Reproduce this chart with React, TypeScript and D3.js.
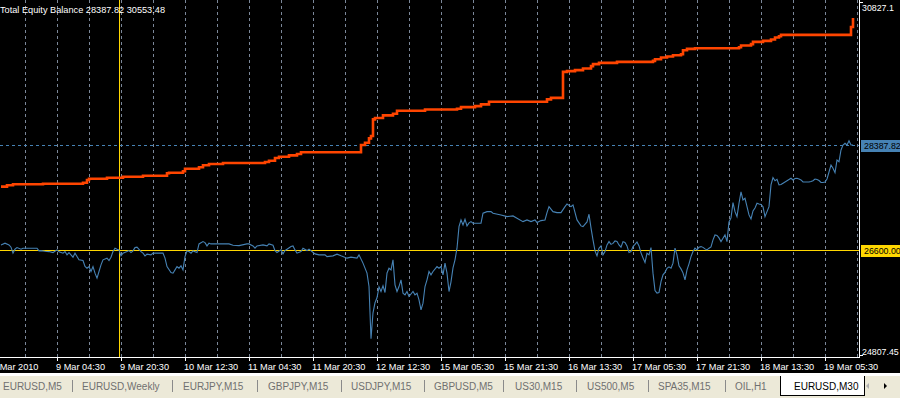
import React from "react";
import * as d3 from "d3";

// ---- data (bar index on M30 chart, account value) ----
const balancePoints: [number, number][] = [
  [0, 27678], [3, 27702], [6, 27719], [21, 27729], [41, 27746], [43, 27792], [44, 27814],
  [53, 27831], [61, 27848], [71, 27865], [83, 27906], [84, 27916], [91, 27940], [92, 27984],
  [99, 28008], [101, 28042], [104, 28064], [111, 28081], [132, 28098], [134, 28120],
  [137, 28166], [139, 28189], [144, 28212], [148, 28235], [150, 28264], [180, 28388],
  [182, 28427], [184, 28502], [185, 28541], [186, 28825], [187, 28848], [191, 28894],
  [196, 28921], [198, 28972], [212, 28993], [228, 29006], [230, 29035], [237, 29052],
  [240, 29081], [244, 29125], [273, 29166], [275, 29193], [281, 29636], [283, 29648],
  [287, 29665], [291, 29694], [295, 29733], [296, 29767], [299, 29789], [308, 29806],
  [326, 29823], [327, 29852], [330, 29881], [333, 29898], [336, 29920], [340, 29937],
  [341, 30005], [343, 30028], [347, 30039], [369, 30056], [370, 30085], [375, 30108],
  [376, 30147], [381, 30164], [385, 30188], [387, 30222], [389, 30244], [390, 30266],
  [425, 30402], [426, 30553.48],
];

const equityPoints: [number, number][] = [
  [0, 26685], [2, 26714], [4, 26685], [5, 26646], [6, 26544], [7, 26612], [8, 26639], [10, 26612],
  [11, 26629], [18, 26629], [19, 26583], [20, 26588], [22, 26578], [24, 26571], [26, 26554],
  [28, 26600], [29, 26566], [31, 26544], [32, 26571], [33, 26515], [34, 26554], [36, 26476],
  [37, 26544], [38, 26486], [39, 26430], [41, 26418], [42, 26316], [43, 26288], [44, 26316],
  [45, 26231], [46, 26316], [47, 26203], [48, 26118], [49, 26231], [50, 26345], [51, 26430],
  [53, 26459], [54, 26418], [55, 26476], [56, 26571], [57, 26629], [58, 26612], [59, 26600],
  [60, 26498], [61, 26544], [63, 26571], [64, 26588], [65, 26554], [66, 26583], [67, 26639],
  [68, 26646], [70, 26571], [71, 26544], [72, 26498], [73, 26527], [75, 26515], [76, 26544],
  [81, 26544], [82, 26459], [83, 26316], [85, 26213], [86, 26203], [87, 26259], [88, 26316],
  [89, 26288], [90, 26328], [91, 26259], [92, 26486], [93, 26583], [94, 26571], [95, 26544],
  [96, 26583], [98, 26554], [99, 26702], [101, 26741], [102, 26724], [103, 26668], [104, 26714],
  [105, 26702], [114, 26702], [116, 26680], [119, 26673], [123, 26702], [124, 26702],
  [126, 26668], [127, 26629], [128, 26668], [131, 26685], [133, 26668], [134, 26702],
  [136, 26680], [137, 26588], [138, 26554], [140, 26600], [141, 26532], [142, 26588],
  [143, 26612], [145, 26656], [146, 26668], [147, 26600], [148, 26544],
  [150, 26571], [151, 26629], [153, 26588], [154, 26612], [157, 26532], [159, 26515],
  [162, 26515], [163, 26486], [166, 26498], [168, 26527], [170, 26498], [173, 26459],
  [175, 26476], [178, 26459], [179, 26515], [181, 26374], [183, 26203], [184, 25975],
  [185, 25085], [186, 25527], [187, 25698], [188, 25783], [189, 25970], [190, 25890],
  [191, 25987], [192, 25873], [193, 26203], [194, 26288], [195, 26259], [196, 26430],
  [197, 26004], [198, 25890], [199, 25975], [200, 26089], [201, 25863], [202, 25834],
  [203, 25890], [204, 25805], [206, 25890], [207, 25834], [208, 25863], [209, 25749],
  [210, 25578], [211, 25692], [212, 25975], [213, 26089], [214, 26231], [215, 26174],
  [216, 26231], [218, 26316], [219, 26288], [220, 26316], [221, 26174], [222, 26374],
  [223, 26203], [224, 25890], [225, 26055], [226, 26294], [227, 26430], [228, 26629],
  [229, 26997], [230, 27111], [231, 27026], [232, 27123], [233, 27009], [234, 27060],
  [235, 27082], [236, 27055], [240, 27055], [241, 27225], [243, 27252], [245, 27252],
  [246, 27225], [250, 27196], [253, 27167], [256, 27179], [258, 27140], [261, 27082],
  [263, 27111], [265, 27082], [267, 27111], [268, 27065], [270, 27099], [272, 27111],
  [273, 27235], [274, 27337], [276, 27252], [278, 27235], [280, 27235], [282, 27337],
  [283, 27383], [285, 27337], [286, 27366], [288, 27111], [290, 27009], [291, 26997],
  [293, 27077], [294, 27208], [295, 26975], [296, 26770], [297, 26583], [298, 26498],
  [299, 26629], [300, 26668], [301, 26515], [302, 26571], [303, 26685], [304, 26741],
  [305, 26694], [306, 26711], [307, 26753], [308, 26745], [309, 26685], [310, 26646],
  [311, 26741], [312, 26728], [313, 26668], [314, 26554], [315, 26571], [316, 26656],
  [317, 26694], [318, 26736], [319, 26668], [320, 26549], [321, 26464], [322, 26384],
  [323, 26544], [324, 26515], [325, 26639], [326, 26203], [327, 25907], [328, 25863],
  [329, 25873], [330, 26060], [331, 26174], [332, 26217], [333, 26285], [334, 26311],
  [335, 26288], [336, 26374], [337, 26629], [338, 26515], [339, 26328], [340, 26276],
  [341, 26208], [342, 26089], [343, 26259], [344, 26362], [345, 26486], [346, 26571],
  [347, 26629], [348, 26600], [349, 26646], [350, 26656], [351, 26643], [352, 26617],
  [353, 26600], [354, 26629], [355, 26651], [356, 26770], [357, 26855], [358, 26847],
  [359, 26804], [360, 26741], [361, 26799], [362, 26855], [363, 26741], [364, 27077],
  [365, 27145], [366, 27405], [367, 27252], [368, 27167], [369, 27395], [370, 27588],
  [371, 27451], [372, 27480], [373, 27337], [374, 27196], [375, 27128], [376, 27264],
  [377, 27315], [378, 27395], [379, 27383], [380, 27375], [381, 27337], [382, 27167],
  [383, 27252], [384, 27337], [385, 27707], [386, 27834], [387, 27780], [388, 27804],
  [389, 27707], [390, 27715], [391, 27736], [392, 27758], [393, 27780], [394, 27800],
  [395, 27821], [396, 27792], [397, 27817], [398, 27821], [399, 27809], [400, 27792],
  [401, 27758], [404, 27758], [405, 27766], [406, 27780], [407, 27809], [408, 27800],
  [409, 27783], [410, 27749], [411, 27749], [412, 27758], [413, 27809], [414, 27928],
  [415, 28047], [416, 27991], [417, 27916], [418, 28132], [419, 28103], [420, 28303],
  [421, 28388], [422, 28417], [423, 28388], [424, 28461], [425, 28388], [426, 28387.82],
];

const timeTickBars = [-4, 28, 60, 92, 124, 156, 188, 220, 252, 284, 316, 348, 380, 412];
const timeTickLabels = [
  "8 Mar 2010", "9 Mar 04:30", "9 Mar 20:30", "10 Mar 12:30", "11 Mar 04:30", "11 Mar 20:30",
  "12 Mar 12:30", "15 Mar 05:30", "15 Mar 21:30", "16 Mar 13:30", "17 Mar 05:30",
  "17 Mar 21:30", "18 Mar 13:30", "19 Mar 05:30",
];
const gridBars = d3.range(12, 429, 16);

const scaleMin = 24807.45;
const scaleMax = 30827.1;
const scaleMaxLabel = "30827.1";
const scaleMinLabel = "24807.45";
const currentEquity = 28387.82;
const currentBalance = 30553.48;
const levelValue = 26600.0;
const markerBar = 59;
const lastBar = 426;

const tabNames = [
  "EURUSD,M5", "EURUSD,Weekly", "EURJPY,M15", "GBPJPY,M15", "USDJPY,M15",
  "GBPUSD,M5", "US30,M15", "US500,M5", "SPA35,M15", "OIL,H1",
];
const activeTabName = "EURUSD,M30";

// ---- layout ----
const W = 900;
const H = 398;
const PLOT_RIGHT = 859;
const AXIS_Y = 357;
const TAB_TEXT_X = [3, 82, 183, 268, 351, 434, 515, 587, 658, 735];
const TAB_SEP_X = [72, 172, 257, 341, 424, 503, 576, 648, 725];
const FONT = "'Liberation Sans', Arial, sans-serif";
const GRID = "#7b8799";
const ORANGE = "#FF4500";
const STEEL = "#4682B4";
const GOLD = "#FFD700";

export default function App() {
  const x = d3.scaleLinear().domain([0, lastBar]).range([1, 853]);
  const y = d3.scaleLinear().domain([scaleMin, scaleMax]).range([355, 2]);

  const balanceLine = d3
    .line<[number, number]>()
    .x((d) => x(d[0]))
    .y((d) => y(d[1]))
    .curve(d3.curveStepAfter);
  const equityLine = d3
    .line<[number, number]>()
    .x((d) => x(d[0]))
    .y((d) => y(d[1]));

  const fmt = d3.format(".2f");
  const yEq = Math.round(y(currentEquity)) + 0.5;
  const yLvl = Math.round(y(levelValue)) + 0.5;
  const xMark = Math.round(x(markerBar)) + 0.5;

  return (
    <svg
      width={W}
      height={H}
      style={{ position: "fixed", left: 0, top: 0, display: "block" }}
      fontFamily={FONT}
    >
      <defs>
        <clipPath id="plot">
          <rect x={0} y={0} width={PLOT_RIGHT} height={AXIS_Y} />
        </clipPath>
      </defs>
      <rect x={0} y={0} width={W} height={H} fill="#000" />

      <g clipPath="url(#plot)">
        {gridBars.map((b) => (
          <line
            key={"g" + b}
            x1={Math.round(x(b)) + 0.5}
            x2={Math.round(x(b)) + 0.5}
            y1={0}
            y2={AXIS_Y}
            stroke={GRID}
            strokeWidth={1}
            strokeDasharray="3,3"
            shapeRendering="crispEdges"
          />
        ))}
        <line
          x1={0}
          x2={PLOT_RIGHT}
          y1={yEq}
          y2={yEq}
          stroke={STEEL}
          strokeWidth={1}
          strokeDasharray="3,3"
          shapeRendering="crispEdges"
        />
        <line x1={0} x2={PLOT_RIGHT} y1={yLvl} y2={yLvl} stroke={GOLD} strokeWidth={1} shapeRendering="crispEdges" />
        <line x1={xMark} x2={xMark} y1={0} y2={AXIS_Y} stroke={GOLD} strokeWidth={1} shapeRendering="crispEdges" />
        <path d={equityLine(equityPoints) || ""} fill="none" stroke={STEEL} strokeWidth={1.1} />
        <path d={balanceLine(balancePoints) || ""} fill="none" stroke={ORANGE} strokeWidth={2.6} />
      </g>

      <text x={0} y={13} fill="#fff" fontSize={9.2}>
        {`Total Equity Balance ${fmt(currentEquity)} ${fmt(currentBalance)}`}
      </text>

      {/* axes */}
      <line x1={PLOT_RIGHT + 0.5} x2={PLOT_RIGHT + 0.5} y1={0} y2={AXIS_Y + 1} stroke="#fff" shapeRendering="crispEdges" />
      <line x1={0} x2={PLOT_RIGHT + 1} y1={AXIS_Y + 0.5} y2={AXIS_Y + 0.5} stroke="#fff" shapeRendering="crispEdges" />

      {timeTickBars.map((b, i) => {
        const tx = Math.round(x(b)) + 0.5;
        return (
          <g key={"t" + b}>
            <line x1={tx} x2={tx} y1={AXIS_Y} y2={AXIS_Y + 4} stroke="#fff" shapeRendering="crispEdges" />
            <text x={tx - 1.5} y={369.5} fill="#fff" fontSize={9.2}>
              {timeTickLabels[i]}
            </text>
          </g>
        );
      })}

      {/* price scale labels */}
      <line x1={PLOT_RIGHT} x2={PLOT_RIGHT + 4} y1={Math.round(y(scaleMax)) + 0.5} y2={Math.round(y(scaleMax)) + 0.5} stroke="#fff" shapeRendering="crispEdges" />
      <text x={862} y={y(scaleMax) + 8.5} fill="#fff" fontSize={8.8}>
        {scaleMaxLabel}
      </text>
      <line x1={PLOT_RIGHT} x2={PLOT_RIGHT + 4} y1={Math.round(y(scaleMin)) + 0.5} y2={Math.round(y(scaleMin)) + 0.5} stroke="#fff" shapeRendering="crispEdges" />
      <text x={862} y={y(scaleMin)} fill="#fff" fontSize={8.8}>
        {scaleMinLabel}
      </text>

      <rect x={861} y={Math.round(y(currentEquity)) - 5} width={W - 861} height={12} fill={STEEL} />
      <text x={864} y={Math.round(y(currentEquity)) + 4} fill="#000" fontSize={8.8}>
        {fmt(currentEquity)}
      </text>
      <rect x={861} y={Math.round(y(levelValue)) - 5} width={W - 861} height={12} fill={GOLD} />
      <text x={864} y={Math.round(y(levelValue)) + 4} fill="#000" fontSize={8.8}>
        {fmt(levelValue)}
      </text>

      {/* tab bar */}
      <rect x={0} y={373} width={W} height={3} fill="#fff" />
      <rect x={0} y={376} width={W} height={H - 376} fill="#ECE9D8" />
      {tabNames.map((t, i) => (
        <text key={t} x={TAB_TEXT_X[i]} y={390} fill="#707070" fontSize={10}>
          {t}
        </text>
      ))}
      {TAB_SEP_X.map((sx) => (
        <line key={"s" + sx} x1={sx + 0.5} x2={sx + 0.5} y1={380} y2={392} stroke="#8a8a8a" shapeRendering="crispEdges" />
      ))}
      <rect x={780} y={376} width={85} height={19} fill="#fff" />
      <line x1={780.5} x2={780.5} y1={376} y2={395} stroke="#000" shapeRendering="crispEdges" />
      <line x1={864.5} x2={864.5} y1={376} y2={396} stroke="#000" shapeRendering="crispEdges" />
      <line x1={780} x2={865} y1={395.5} y2={395.5} stroke="#000" shapeRendering="crispEdges" />
      <text x={794} y={390} fill="#000" fontSize={10}>
        {activeTabName}
      </text>
      <path d="M869,383 L869,389 L866,386 Z" fill="#b0b0b0" />
      <path d="M884,383 L884,389 L887,386 Z" fill="#000" />
    </svg>
  );
}
